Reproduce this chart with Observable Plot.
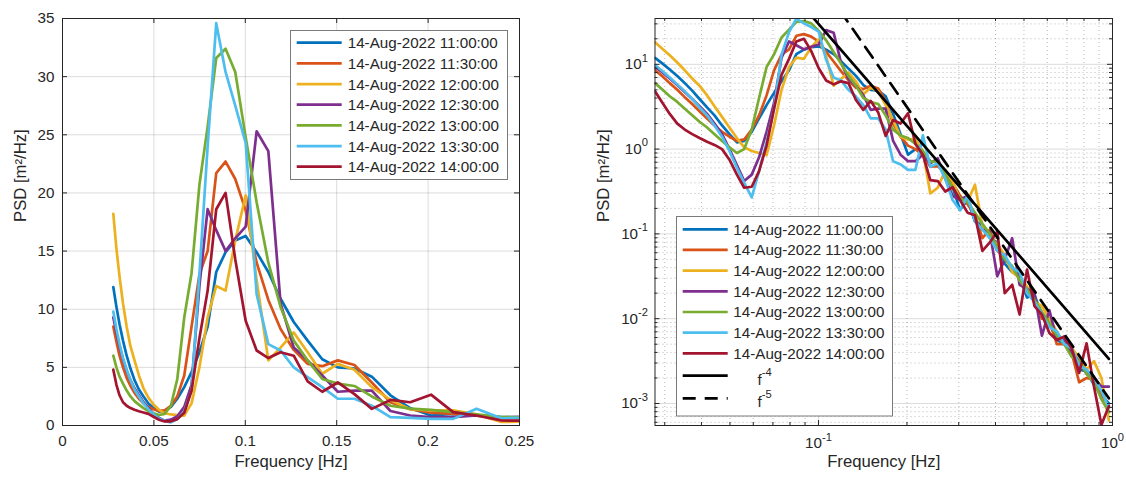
<!DOCTYPE html>
<html><head><meta charset="utf-8">
<script src="https://cdn.jsdelivr.net/npm/d3@7"></script>
<script src="https://cdn.jsdelivr.net/npm/@observablehq/plot@0.6"></script>
<style>
html,body{margin:0;padding:0;background:#fff;overflow:hidden;}
#wrap{position:relative;width:1126px;height:479px;background:#fff;}
#wrap > svg{position:absolute;top:0;}
</style></head><body><div id="wrap"></div>
<script>
// ---------------- data ----------------
const freq = [0.0278,0.0295,0.0312,0.0331,0.0351,0.0372,0.0394,0.0418,0.0443,0.0470,0.0498,0.0528,0.0559,0.0593,0.0628,0.0666,0.0706,0.0749,0.0794,0.0841,0.0892,0.0945,0.1002,0.1062,0.1126,0.1193,0.1265,0.1341,0.1421,0.1506,0.1597,0.1692,0.1794,0.1902,0.2016,0.2137,0.2265,0.2401,0.2545,0.2698,0.2859,0.3031,0.3213,0.3406,0.3610,0.3827,0.4056,0.4300,0.4558,0.4831,0.5121,0.5428,0.5754,0.6099,0.6465,0.6853,0.7264,0.7700,0.8162,0.8652,0.9171,0.9721];

const labels = ["14-Aug-2022 11:00:00","14-Aug-2022 11:30:00","14-Aug-2022 12:00:00","14-Aug-2022 12:30:00","14-Aug-2022 13:00:00","14-Aug-2022 13:30:00","14-Aug-2022 14:00:00"];
const colors = ["#0072BD","#D95319","#EDB120","#7E2F8E","#77AC30","#4DBEEE","#A2142F"];

const psd1100 = [11.9,10.2,8.7,7.3,6.0,4.9,3.9,3.1,2.5,1.9,1.5,1.2,1.25,1.6,2.3,3.3,4.6,6.3,8.5,13.2,14.9,15.9,16.3,14.9,13.2,10.9,8.9,7.3,5.7,5.0,4.9,4.2,2.6,1.5,0.86,1.0,0.9,0.72,0.7,0.501,0.355,0.191,0.251,0.141,0.126,0.0891,0.0794,0.0447,0.0355,0.0316,0.0178,0.0191,0.0112,0.00891,0.00562,0.00501,0.00417,0.00251,0.00240,0.00166,0.00126,0.00100];
const psd1130 = [8.5,7.2,6.0,5.0,4.1,3.4,2.8,2.3,1.9,1.6,1.4,1.25,1.3,1.7,2.5,4.3,8.5,13.0,15.0,21.7,22.7,21.2,18.5,14.0,10.8,8.3,6.5,5.3,5.1,5.6,5.2,3.7,2.0,1.4,1.1,1.0,0.85,0.62,0.63,0.525,0.398,0.282,0.224,0.166,0.0891,0.112,0.0631,0.0525,0.0398,0.0316,0.0200,0.0178,0.0100,0.00955,0.00501,0.00501,0.00398,0.00178,0.00200,0.00191,0.00132,0.000794];
const psd1200 = [18.2,15.2,12.8,10.5,8.5,6.8,5.6,4.3,3.2,2.4,1.8,1.35,1.05,0.95,0.9,0.85,1.9,5.0,9.3,12.0,11.6,15.9,19.8,12.5,5.6,6.7,8.0,6.3,4.45,5.3,4.8,3.3,2.2,1.4,1.3,1.3,0.95,0.3,0.35,0.562,0.417,0.251,0.240,0.380,0.126,0.0891,0.0759,0.0562,0.0355,0.0302,0.0240,0.0158,0.0141,0.0100,0.00708,0.00501,0.00447,0.00355,0.00251,0.00316,0.00200,0.000631];
const psd1230 = [9.3,8.0,6.8,5.7,4.7,3.9,3.2,2.6,2.0,1.5,1.0,0.65,0.42,0.5,0.8,1.6,3.5,12.0,18.6,16.8,15.0,16.1,17.1,25.3,23.6,10.5,6.7,5.6,4.3,2.9,3.0,3.0,1.25,0.86,0.72,0.72,0.86,0.68,0.78,0.447,0.282,0.251,0.282,0.141,0.112,0.105,0.0316,0.0501,0.0891,0.0251,0.0224,0.0200,0.00631,0.0126,0.00562,0.00562,0.00398,0.00316,0.00224,0.00200,0.00158,0.00158];
const psd1300 = [6.0,5.0,4.2,3.6,3.0,2.5,2.1,1.8,1.5,1.25,1.05,0.9,1.0,1.7,4.0,9.3,13.1,20.7,25.7,31.6,32.4,30.4,24.8,19.2,14.0,10.2,7.3,5.6,4.0,3.6,3.4,2.5,1.7,1.45,1.35,1.15,0.95,0.72,0.7,0.501,0.355,0.263,0.240,0.178,0.132,0.1,0.0708,0.0501,0.0417,0.0282,0.0224,0.0166,0.0120,0.00891,0.00631,0.00501,0.00355,0.00316,0.00224,0.00178,0.00112,0.000794];
const psd1330 = [9.8,8.3,7.0,5.8,4.8,3.9,3.1,2.5,1.9,1.4,0.95,0.6,0.4,0.27,0.55,1.2,3.0,13.0,24.0,34.6,30.4,27.5,24.3,11.3,7.0,6.45,5.0,4.16,3.3,2.3,2.3,1.7,0.72,0.66,0.57,0.57,1.45,0.62,0.68,0.447,0.251,0.191,0.282,0.141,0.112,0.0891,0.0631,0.0562,0.0398,0.0355,0.0200,0.0158,0.0112,0.00794,0.00708,0.00501,0.00447,0.00282,0.00251,0.00200,0.00141,0.000891];
const psd1400 = [4.8,3.5,2.6,2.0,1.7,1.5,1.35,1.22,1.12,1.0,0.75,0.5,0.35,0.36,0.55,1.1,3.0,7.5,11.6,18.6,20.0,14.3,9.0,6.45,5.8,6.3,6.0,3.8,2.9,3.7,2.7,1.43,2.2,2.0,2.65,1.15,0.86,0.43,0.42,0.316,0.355,0.251,0.178,0.166,0.0631,0.0794,0.107,0.0200,0.0251,0.0112,0.0380,0.0141,0.0112,0.00676,0.00562,0.00617,0.00447,0.00229,0.00513,0.00158,0.000562,0.000933];

// reference power-law lines (end points)
const refFreq = [0.08, 0.9721];
const refF4 = [73.2, 0.00336];
const refF5 = [305.2, 0.00115];
const refLabels = ["f^-4", "f^-5"];

// ticks
const xTicksL = [0, 0.05, 0.1, 0.15, 0.2, 0.25];
const xTickLabelsL = ["0", "0.05", "0.1", "0.15", "0.2", "0.25"];
const yTicksL = [0, 5, 10, 15, 20, 25, 30, 35];
const xMajorR = [0.1, 1];
const xMinorR = [0.03,0.04,0.05,0.06,0.07,0.08,0.09,0.2,0.3,0.4,0.5,0.6,0.7,0.8,0.9];
const yMajorR = [0.001, 0.01, 0.1, 1, 10];
const yMinorR = [0.0006,0.0007,0.0008,0.0009,0.002,0.003,0.004,0.005,0.006,0.007,0.008,0.009,0.02,0.03,0.04,0.05,0.06,0.07,0.08,0.09,0.2,0.3,0.4,0.5,0.6,0.7,0.8,0.9,2,3,4,5,6,7,8,9,20,30];

// ---------------- build ----------------
const series = [psd1100, psd1130, psd1200, psd1230, psd1300, psd1330, psd1400];
const rows = [];
series.forEach((vals, i) => vals.forEach((v, k) => rows.push({f: freq[k], v, name: labels[i]})));
const leftRows = rows.filter(d => d.f <= 0.26);
const ref4 = refFreq.map((f, i) => ({f, v: refF4[i]}));
const ref5 = refFreq.map((f, i) => ({f, v: refF5[i]}));

const FONT = "'Liberation Sans', Arial, Helvetica, sans-serif";
const INK = "#262626";
const TICKFS = 15.2, LABFS = 16.7, LEGFS = 15.2;
const W = 563, H = 479, MT = 18, MB = 54;
const FH = H - MT - MB; // 407

// ---- left panel
const mlL = 62, mrL = 44, FWL = W - mlL - mrL;
const left = Plot.plot({
  width: W, height: H, marginLeft: mlL, marginRight: mrL, marginTop: MT, marginBottom: MB,
  style: {fontFamily: FONT, fontSize: TICKFS + "px", color: INK, background: "transparent", overflow: "visible"},
  x: {domain: [0, 0.25]},
  y: {domain: [0, 35]},
  color: {domain: labels, range: colors},
  marks: [
    Plot.gridX(xTicksL, {stroke: "#000", strokeOpacity: 0.14, strokeWidth: 1}),
    Plot.gridY(yTicksL, {stroke: "#000", strokeOpacity: 0.14, strokeWidth: 1}),
    Plot.line(leftRows, {x: "f", y: "v", z: "name", stroke: "name", strokeWidth: 2.7, strokeLinejoin: "round", clip: true}),
    Plot.ruleX(xTicksL, {x: d => d, insetTop: FH - 5, stroke: INK}),
    Plot.ruleX(xTicksL, {x: d => d, insetBottom: FH - 5, stroke: INK}),
    Plot.ruleY(yTicksL, {y: d => d, insetRight: FWL - 5, stroke: INK}),
    Plot.ruleY(yTicksL, {y: d => d, insetLeft: FWL - 5, stroke: INK}),
    Plot.frame({stroke: INK, strokeWidth: 1}),
    Plot.axisX({ticks: xTicksL, tickSize: 0, tickPadding: 10, label: null, fontSize: TICKFS, fill: INK,
      tickFormat: d => xTickLabelsL[xTicksL.indexOf(d)]}),
    Plot.axisY({ticks: yTicksL, tickSize: 0, tickPadding: 8, label: null, fontSize: TICKFS, fill: INK,
      tickFormat: d => String(d)}),
    Plot.text(["Frequency [Hz]"], {frameAnchor: "bottom", dy: 41, fontSize: LABFS, fill: INK}),
    Plot.text(["PSD [m²/Hz]"], {frameAnchor: "left", dx: -42, rotate: -90, fontSize: LABFS, fill: INK})
  ]
});
left.style.left = "0px";

// ---- right panel
const mlR = 91.5, mrR = 14, FWR = W - mlR - mrR;
const logFmt = d => "10^" + Math.round(Math.log10(d));
const right = Plot.plot({
  width: W, height: H, marginLeft: mlR, marginRight: mrR, marginTop: MT, marginBottom: MB,
  style: {fontFamily: FONT, fontSize: TICKFS + "px", color: INK, background: "transparent", overflow: "visible"},
  x: {type: "log", domain: [0.0278, 1]},
  y: {type: "log", domain: [5.5e-4, 34.7]},
  color: {domain: labels, range: colors},
  marks: [
    Plot.gridX(xMinorR, {stroke: "#000", strokeOpacity: 0.28, strokeWidth: 1, strokeDasharray: "1,3"}),
    Plot.gridY(yMinorR, {stroke: "#000", strokeOpacity: 0.28, strokeWidth: 1, strokeDasharray: "1,3"}),
    Plot.gridX(xMajorR, {stroke: "#000", strokeOpacity: 0.14, strokeWidth: 1}),
    Plot.gridY(yMajorR, {stroke: "#000", strokeOpacity: 0.14, strokeWidth: 1}),
    Plot.line(rows, {x: "f", y: "v", z: "name", stroke: "name", strokeWidth: 2.7, strokeLinejoin: "round", clip: true}),
    Plot.line(ref4, {x: "f", y: "v", stroke: "#000", strokeWidth: 2.7, clip: true}),
    Plot.line(ref5, {x: "f", y: "v", stroke: "#000", strokeWidth: 2.7, strokeDasharray: "13,9", clip: true}),
    Plot.ruleX(xMajorR, {x: d => d, insetTop: FH - 5, stroke: INK}),
    Plot.ruleX(xMajorR, {x: d => d, insetBottom: FH - 5, stroke: INK}),
    Plot.ruleX(xMinorR, {x: d => d, insetTop: FH - 3, stroke: INK}),
    Plot.ruleX(xMinorR, {x: d => d, insetBottom: FH - 3, stroke: INK}),
    Plot.ruleY(yMajorR, {y: d => d, insetRight: FWR - 5, stroke: INK}),
    Plot.ruleY(yMajorR, {y: d => d, insetLeft: FWR - 5, stroke: INK}),
    Plot.ruleY(yMinorR, {y: d => d, insetRight: FWR - 3, stroke: INK}),
    Plot.ruleY(yMinorR, {y: d => d, insetLeft: FWR - 3, stroke: INK}),
    Plot.frame({stroke: INK, strokeWidth: 1}),
    Plot.axisX({ticks: xMajorR, tickSize: 0, tickPadding: 12, label: null, fontSize: TICKFS, fill: INK, tickFormat: logFmt}),
    Plot.axisY({ticks: yMajorR, tickSize: 0, tickPadding: 7, label: null, fontSize: TICKFS, fill: INK, tickFormat: logFmt}),
    Plot.text(["Frequency [Hz]"], {frameAnchor: "bottom", dy: 41, fontSize: LABFS, fill: INK}),
    Plot.text(["PSD [m²/Hz]"], {frameAnchor: "left", dx: -51.5, rotate: -90, fontSize: LABFS, fill: INK})
  ]
});
right.style.left = W + "px";

const NS = "http://www.w3.org/2000/svg";
function supify(svg) {
  svg.querySelectorAll("text").forEach(t => {
    const m = /^10\^(-?\d+)$/.exec(t.textContent.trim());
    if (!m) return;
    t.textContent = "";
    const a = document.createElementNS(NS, "tspan"); a.textContent = "10"; t.appendChild(a);
    const b = document.createElementNS(NS, "tspan"); b.textContent = m[1];
    b.setAttribute("dy", "-7.5"); b.setAttribute("font-size", "11.2"); t.appendChild(b);
  });
}
supify(right);

const wrap = document.getElementById("wrap");
wrap.appendChild(left);
wrap.appendChild(right);

// ---- legends (overlay)
const ov = d3.select(wrap).append("svg")
  .attr("width", 1126).attr("height", 479)
  .style("position", "absolute").style("left", "0px").style("top", "0px")
  .style("font-family", FONT).style("pointer-events", "none");

function legend(g, x0, y0, w, h, lineX1, lineX2, textX, rowYs) {
  g.append("rect").attr("x", x0).attr("y", y0).attr("width", w).attr("height", h)
    .attr("fill", "#fff").attr("stroke", "#7a7a7a").attr("stroke-width", 1);
  labels.forEach((lab, i) => {
    g.append("line").attr("x1", lineX1).attr("x2", lineX2).attr("y1", rowYs[i]).attr("y2", rowYs[i])
      .attr("stroke", colors[i]).attr("stroke-width", 2.7);
    g.append("text").attr("x", textX).attr("y", rowYs[i]).attr("dy", "0.36em")
      .attr("font-size", LEGFS).attr("fill", INK).text(lab);
  });
}
const rowsL = labels.map((_, i) => 42.7 + 20.67 * i);
legend(ov.append("g"), 290.5, 30.5, 217, 149, 296.7, 341.7, 347.7, rowsL);

const rowsR = labels.map((_, i) => 229.3 + 20.67 * i);
const gR = ov.append("g");
legend(gR, 676.5, 216.5, 216, 199.5, 682.7, 727.7, 733.3, rowsR);
const refRowY = [375.7, 398.3];
refLabels.forEach((lab, i) => {
  const y = refRowY[i];
  gR.append("line").attr("x1", 682.7).attr("x2", 727.7).attr("y1", y).attr("y2", y)
    .attr("stroke", "#000").attr("stroke-width", 2.7)
    .attr("stroke-dasharray", i === 1 ? "13,9" : null);
  const t = gR.append("text").attr("x", 757.5).attr("y", y + 9).attr("font-size", LEGFS).attr("fill", INK);
  const parts = lab.split("^");
  t.append("tspan").text(parts[0]);
  t.append("tspan").attr("dy", -9).attr("font-size", 11.2).text(parts[1]);
});
</script>
</body></html>
